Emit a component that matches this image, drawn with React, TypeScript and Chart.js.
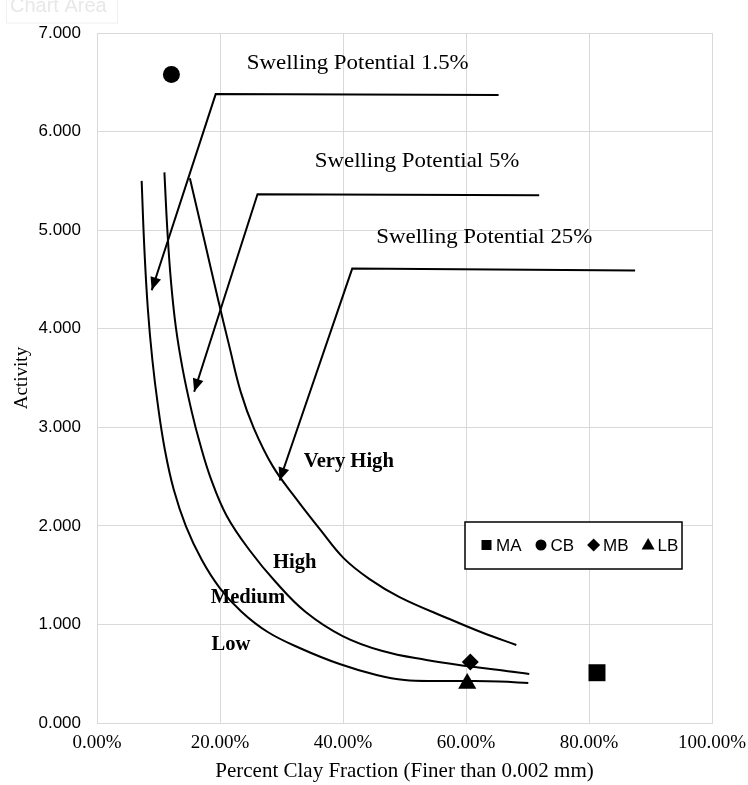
import React, { useEffect, useRef } from 'react';
import { Chart, registerables } from 'chart.js';

Chart.register(...registerables);

// ---- Axis ranges / ticks ----
const xTickStep = 20;
const xMin = 0;
const xMax = 100;
const yTickStep = 1;
const yMin = 0;
const yMax = 7;

// ---- Boundary curves (Percent clay fraction %, Activity) ----
const lowCurveX = [7.26, 7.71, 8.28, 9.01, 9.9, 11.04, 12.5, 14.45, 17.05, 19.97, 23.54, 27.76, 32.95, 39.45, 45.45, 50.0, 55.68, 60.55, 65.42, 70.13];
const lowCurveY = [5.5, 4.8, 4.19, 3.68, 3.225, 2.77, 2.363, 1.998, 1.653, 1.369, 1.126, 0.923, 0.761, 0.598, 0.487, 0.436, 0.426, 0.426, 0.421, 0.406];

const mediumCurveX = [10.96, 11.44, 12.01, 12.82, 13.96, 15.42, 16.72, 18.51, 21.1, 24.84, 29.06, 33.93, 39.94, 46.43, 53.57, 60.06, 65.42, 70.29];
const mediumCurveY = [5.586, 5.0, 4.493, 4.016, 3.58, 3.154, 2.84, 2.48, 2.1, 1.75, 1.43, 1.126, 0.882, 0.73, 0.639, 0.578, 0.538, 0.497];

const highCurveX = [15.1, 17.53, 19.64, 21.59, 23.38, 25.49, 28.57, 32.31, 36.36, 40.1, 44.32, 49.19, 57.31, 62.82, 68.18];
const highCurveY = [5.527, 4.878, 4.31, 3.803, 3.357, 2.992, 2.606, 2.282, 1.957, 1.673, 1.46, 1.278, 1.055, 0.913, 0.791];

// ---- Leader lines (end of label line -> corner -> arrow tip) ----
const leader15X = [65.3, 19.3, 8.9];
const leader15Y = [6.37, 6.38, 4.39];
const leader5X = [71.9, 26.1, 15.8];
const leader5Y = [5.355, 5.365, 3.36];
const leader25X = [87.5, 41.5, 29.7];
const leader25Y = [4.59, 4.61, 2.46];

// ---- Samples ----
const sampleNames = ['MA', 'CB', 'MB', 'LB'];
const sampleX = [81.3, 12.1, 60.7, 60.2];
const sampleY = [0.51, 6.58, 0.62, 0.4];
const sampleStyles = ['rect', 'circle', 'rectRot', 'triangle'];
const sampleRadii = [12, 8.5, 8.5, 10.5];

// ---- Text annotations (data coordinates) ----
const annotationTexts = ['Swelling Potential 1.5%', 'Swelling Potential 5%', 'Swelling Potential 25%', 'Very High', 'High', 'Medium', 'Low'];
const annotationX = [24.35, 35.4, 45.4, 33.6, 28.6, 18.5, 18.6];
const annotationY = [6.69, 5.7, 4.93, 2.65, 1.63, 1.27, 0.79];
const annotationBold = [false, false, false, true, true, true, true];

const zip = (xs: number[], ys: number[]) => xs.map((x, i) => ({ x, y: ys[i] }));

const SERIF = '"Liberation Serif", "Times New Roman", serif';
const SANS = '"Liberation Sans", Arial, sans-serif';

const arrowPlugin = {
  id: 'arrowHeads',
  afterDatasetsDraw(chart: any) {
    const ctx = chart.ctx;
    chart.data.datasets.forEach((ds: any, i: number) => {
      if (!ds.arrowHead) return;
      const pts = chart.getDatasetMeta(i).data;
      if (pts.length < 2) return;
      const p2 = pts[pts.length - 1];
      const p1 = pts[pts.length - 2];
      const ang = Math.atan2(p2.y - p1.y, p2.x - p1.x);
      const L = 13;
      const W = 5.5;
      const bx = p2.x - L * Math.cos(ang);
      const by = p2.y - L * Math.sin(ang);
      const px = -Math.sin(ang);
      const py = Math.cos(ang);
      ctx.save();
      ctx.fillStyle = '#000';
      ctx.beginPath();
      ctx.moveTo(p2.x, p2.y);
      ctx.lineTo(bx + W * px, by + W * py);
      ctx.lineTo(bx - W * px, by - W * py);
      ctx.closePath();
      ctx.fill();
      ctx.restore();
    });
  },
};

const textPlugin = {
  id: 'textAnnotations',
  afterDatasetsDraw(chart: any) {
    const ctx = chart.ctx;
    const xs = chart.scales.x;
    const ys = chart.scales.y;
    annotationTexts.forEach((t, i) => {
      ctx.save();
      ctx.fillStyle = '#000';
      ctx.textAlign = 'left';
      ctx.textBaseline = 'middle';
      ctx.font = annotationBold[i] ? `bold 20px ${SERIF}` : `21px ${SERIF}`;
      ctx.translate(xs.getPixelForValue(annotationX[i]), ys.getPixelForValue(annotationY[i]));
      ctx.scale(annotationBold[i] ? 1.03 : 1.09, 1);
      ctx.fillText(t, 0, 0);
      ctx.restore();
    });
  },
};

function drawMarker(ctx: CanvasRenderingContext2D, style: string, cx: number, cy: number) {
  ctx.beginPath();
  if (style === 'rect') {
    ctx.rect(cx - 5, cy - 5, 10, 10);
  } else if (style === 'circle') {
    ctx.arc(cx, cy, 5.5, 0, Math.PI * 2);
  } else if (style === 'rectRot') {
    ctx.moveTo(cx, cy - 6.5);
    ctx.lineTo(cx + 6.5, cy);
    ctx.lineTo(cx, cy + 6.5);
    ctx.lineTo(cx - 6.5, cy);
    ctx.closePath();
  } else {
    ctx.moveTo(cx, cy - 7);
    ctx.lineTo(cx + 6.5, cy + 4.5);
    ctx.lineTo(cx - 6.5, cy + 4.5);
    ctx.closePath();
  }
  ctx.fill();
}

const legendPlugin = {
  id: 'boxLegend',
  afterDraw(chart: any) {
    const ctx = chart.ctx;
    const left = 465;
    const top = 522;
    const w = 217;
    const h = 47;
    ctx.save();
    ctx.fillStyle = '#fff';
    ctx.fillRect(left, top, w, h);
    ctx.strokeStyle = '#000';
    ctx.lineWidth = 1.5;
    ctx.strokeRect(left, top, w, h);
    ctx.font = `17px ${SANS}`;
    ctx.textBaseline = 'middle';
    ctx.textAlign = 'left';
    ctx.fillStyle = '#000';
    let x = left + 16;
    const cy = top + 23;
    chart.data.datasets.forEach((ds: any) => {
      if (!ds.isSample) return;
      drawMarker(ctx, ds.pointStyle, x + 5.5, cy);
      ctx.fillText(ds.label, x + 15, cy + 1);
      x += 15 + ctx.measureText(ds.label).width + 14;
    });
    ctx.restore();
  },
};

const ghostPlugin = {
  id: 'ghostLabel',
  afterDraw(chart: any) {
    const ctx = chart.ctx;
    ctx.save();
    ctx.strokeStyle = '#f0f0f0';
    ctx.lineWidth = 1;
    ctx.strokeRect(6.5, -1, 111, 24);
    ctx.fillStyle = '#e8e8e8';
    ctx.font = `20px ${SANS}`;
    ctx.textBaseline = 'middle';
    ctx.fillText('Chart Area', 10, 6);
    ctx.restore();
  },
};

export default function App() {
  const ref = useRef<HTMLCanvasElement | null>(null);

  useEffect(() => {
    document.body.style.margin = '0';
    if (!ref.current) return;
    Chart.defaults.font.family = SERIF;

    const curve = (label: string, xs: number[], ys: number[]) => ({
      type: 'scatter' as const,
      label,
      data: zip(xs, ys),
      showLine: true,
      borderColor: '#000',
      borderWidth: 2,
      pointRadius: 0,
      tension: 0.4,
      fill: false,
    });
    const leader = (label: string, xs: number[], ys: number[]) => ({
      type: 'scatter' as const,
      label,
      data: zip(xs, ys),
      showLine: true,
      borderColor: '#000',
      borderWidth: 2,
      pointRadius: 0,
      tension: 0,
      fill: false,
      arrowHead: true,
    });
    const samples = sampleNames.map((name, i) => ({
      type: 'scatter' as const,
      label: name,
      data: [{ x: sampleX[i], y: sampleY[i] }],
      showLine: false,
      pointStyle: sampleStyles[i],
      pointRadius: sampleRadii[i],
      pointBackgroundColor: '#000',
      pointBorderColor: '#000',
      pointBorderWidth: 0,
      isSample: true,
    }));

    const chart = new Chart(ref.current, {
      type: 'scatter',
      data: {
        datasets: [
          ...samples,
          curve('Low boundary', lowCurveX, lowCurveY),
          curve('Medium boundary', mediumCurveX, mediumCurveY),
          curve('High boundary', highCurveX, highCurveY),
          leader('Swelling Potential 1.5%', leader15X, leader15Y),
          leader('Swelling Potential 5%', leader5X, leader5Y),
          leader('Swelling Potential 25%', leader25X, leader25Y),
        ] as any,
      },
      options: {
        animation: false,
        responsive: false,
        maintainAspectRatio: false,
        layout: { padding: { top: 33, right: 36, left: 0, bottom: 0 } },
        plugins: {
          legend: { display: false },
          tooltip: { enabled: false },
        },
        scales: {
          x: {
            type: 'linear',
            min: xMin,
            max: xMax,
            ticks: {
              stepSize: xTickStep,
              callback: (v: any) => Number(v).toFixed(2) + '%',
              font: { family: SERIF, size: 19 },
              color: '#000',
              padding: 9,
              maxRotation: 0,
              autoSkip: false,
            },
            grid: { color: '#d9d9d9', drawTicks: false, lineWidth: 1 },
            border: { color: '#d9d9d9' },
            title: {
              display: true,
              text: 'Percent Clay Fraction (Finer than 0.002 mm)',
              font: { family: SERIF, size: 21 },
              color: '#000',
              padding: { top: 0, bottom: 1 },
            },
            afterFit: (s: any) => {
              s.height = 62;
              s.paddingLeft = 0;
              s.paddingRight = 0;
            },
          },
          y: {
            type: 'linear',
            min: yMin,
            max: yMax,
            ticks: {
              stepSize: yTickStep,
              callback: (v: any) => Number(v).toFixed(3),
              font: { family: SANS, size: 17 },
              color: '#000',
              padding: 16,
            },
            grid: { color: '#d9d9d9', drawTicks: false, lineWidth: 1 },
            border: { color: '#d9d9d9' },
            title: {
              display: true,
              text: 'Activity',
              font: { family: SERIF, size: 19 },
              color: '#000',
              padding: { top: 11, bottom: 0 },
            },
            afterFit: (s: any) => {
              s.width = 97;
              s.paddingTop = 0;
              s.paddingBottom = 0;
            },
          },
        },
      } as any,
      plugins: [arrowPlugin, textPlugin, legendPlugin, ghostPlugin],
    });
    return () => chart.destroy();
  }, []);

  return (
    <div style={{ width: 748, height: 785, background: '#fff' }}>
      <canvas ref={ref} width={748} height={785} style={{ display: 'block' }} />
    </div>
  );
}
